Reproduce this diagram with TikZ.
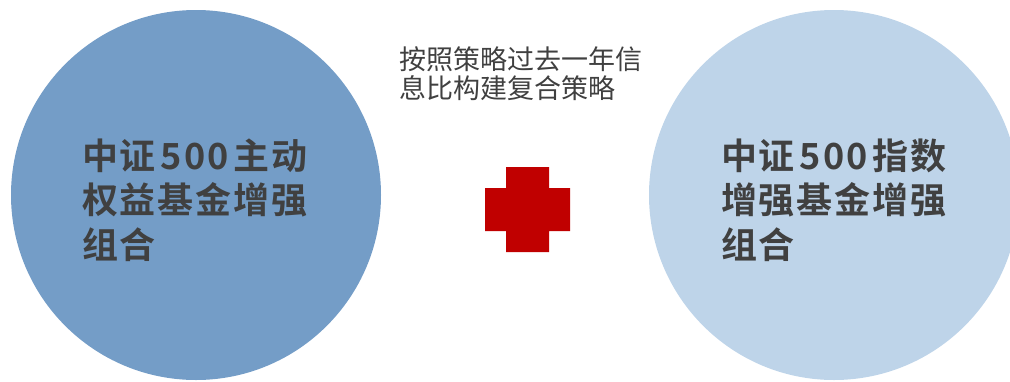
\documentclass[tikz,border=0pt]{standalone}
\usepackage{fontspec}
\newfontfamily\cjk{Noto Sans CJK SC}
\newfontfamily\cjkbold[LetterSpace=5]{Noto Sans CJK SC Bold}
\definecolor{leftblue}{RGB}{116,157,199}
\definecolor{rightblue}{RGB}{190,212,233}
\definecolor{crossred}{RGB}{192,0,0}
\definecolor{txtgray}{RGB}{64,64,64}
\tikzset{
  bubble/.style={circle, minimum size=370pt, inner sep=0pt, draw=none},
  bigtext/.style={anchor=west, inner sep=0pt, align=left, text=txtgray,
    font=\cjkbold\fontsize{36}{44.5}\selectfont},
  toptext/.style={anchor=north west, inner sep=0pt, align=left, text=txtgray,
    font=\cjk\fontsize{27}{29}\selectfont}
}
\begin{document}
\begin{tikzpicture}[x=1pt,y=-1pt]
\useasboundingbox (0,0) rectangle (1010,381);
\node[bubble, fill=leftblue] (L) at (196,195) {};
\node[bubble, fill=rightblue] (R) at (834,195) {};
\node[bigtext] (Lt) at (82,200) {中证\kern5pt500\kern5pt主动\\权益基金增强\\组合};
\node[bigtext] (Rt) at (721,200) {中证\kern5pt500\kern5pt指数\\增强基金增强\\组合};
\node[toptext] (T) at (399,46) {按照策略过去一年信\\息比构建复合策略};
\fill[crossred] (506,167) -- (549,167) -- (549,188) -- (570,188) -- (570,231)
  -- (549,231) -- (549,252) -- (506,252) -- (506,231) -- (485,231)
  -- (485,188) -- (506,188) -- cycle;
\end{tikzpicture}
\end{document}
